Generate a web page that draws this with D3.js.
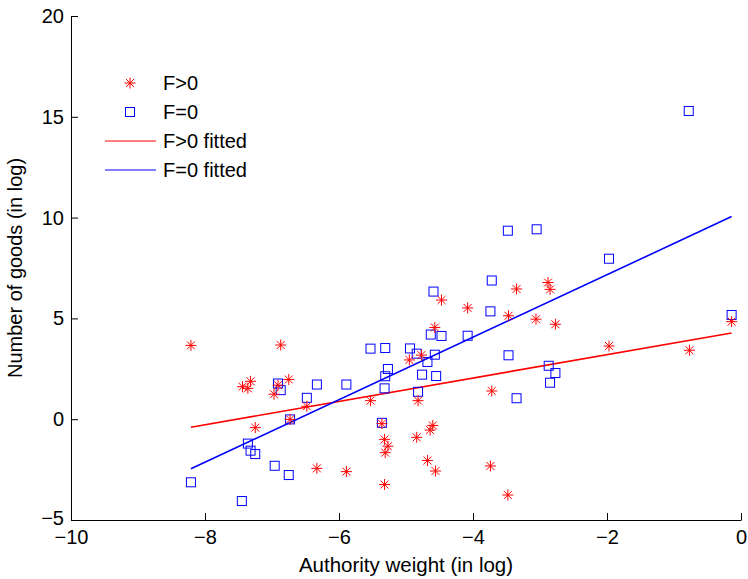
<!DOCTYPE html>
<html>
<head>
<meta charset="utf-8">
<script src="https://cdn.jsdelivr.net/npm/d3@7"></script>
<style>
  body { margin: 0; background: #fff; }
  svg text { font-family: "Liberation Sans", Arial, Helvetica, sans-serif; }
</style>
</head>
<body>
<svg id="chart" width="748" height="579"></svg>
<script>
// F>0 points (log authority weight, log number of goods)
var posX = [-8.21, -7.44, -7.36, -7.32, -7.25, -6.97, -6.91, -6.87, -6.75, -6.73,
            -6.48, -6.33, -5.89, -5.53, -5.36, -5.32, -5.27, -5.31, -5.32, -4.95,
            -4.82, -4.84, -4.77, -4.68, -4.60, -4.64, -4.56, -4.57, -4.47, -4.08,
            -3.72, -3.74, -3.48, -3.47, -3.35, -3.06, -2.88, -2.85, -2.77, -1.97,
            -0.77, -0.14];
var posY = [3.66, 1.61, 1.53, 1.88, -0.42, 1.24, 1.69, 3.68, 1.97, -0.01,
            0.64, -2.44, -2.60, 0.92, -0.22, -1.00, -1.34, -1.66, -3.24, 2.94,
            0.92, -0.90, 3.18, -2.05, -0.31, -0.54, -2.57, 4.55, 5.91, 5.52,
            1.40, -2.32, -3.76, 5.13, 6.46, 4.96, 6.78, 6.44, 4.71, 3.63,
            3.42, 4.84];

// F=0 points
var zeroX = [-8.21, -7.45, -7.36, -7.32, -7.25, -6.96, -6.91, -6.87, -6.75, -6.73,
             -6.48, -6.33, -5.89, -5.53, -5.31, -5.27, -5.31, -5.32, -5.36, -4.94,
             -4.84, -4.82, -4.76, -4.68, -4.63, -4.59, -4.57, -4.55, -4.47, -4.08,
             -3.72, -3.74, -3.48, -3.47, -3.35, -3.05, -2.87, -2.77, -2.85, -1.97,
             -0.78, -0.14];
var zeroY = [-3.13, -4.06, -1.21, -1.56, -1.73, -2.31, 1.77, 1.44, -2.77, -0.01,
             1.06, 1.72, 1.72, 3.50, 3.53, 2.49, 2.13, 1.53, -0.18, 3.51,
             3.25, 1.36, 2.21, 2.84, 4.20, 6.33, 3.20, 2.14, 4.13, 4.14,
             6.88, 5.35, 9.35, 3.17, 1.04, 9.42, 2.65, 2.29, 1.81, 7.96,
             15.29, 5.17];

// fitted line end points
var fitX = [-8.21, -0.14];
var posFitY = [-0.4, 4.28];
var zeroFitY = [-2.46, 10.05];

var xTicks = [-10, -8, -6, -4, -2, 0];
var yTicks = [-5, 0, 5, 10, 15, 20];

var legendLabels = ["F>0", "F=0", "F>0 fitted", "F=0 fitted"];

var margin = {top: 16, right: 7, bottom: 59, left: 71};
var svg = d3.select('#chart');
var width = 748 - margin.left - margin.right;
var height = 579 - margin.top - margin.bottom;

var g = svg.append('g')
  .attr('transform', 'translate(' + margin.left + ',' + margin.top + ')');

var x = d3.scaleLinear().domain([-10, 0]).range([0, width]);
var y = d3.scaleLinear().domain([-5, 20]).range([height, 0]);

// axes, MATLAB style: inward ticks, no box
var xAxis = g.append('g')
  .attr('transform', 'translate(0,' + height + ')')
  .call(d3.axisBottom(x).tickValues(xTicks).tickSizeInner(-7).tickSizeOuter(0).tickPadding(10));
var yAxis = g.append('g')
  .call(d3.axisLeft(y).tickValues(yTicks).tickSizeInner(-7).tickSizeOuter(0).tickPadding(7));

[xAxis, yAxis].forEach(function(a) {
  a.select('.domain').attr('stroke', '#000').attr('stroke-width', 1);
  a.selectAll('.tick line').attr('stroke', '#000');
  a.selectAll('.tick text').attr('fill', '#000').style('font-size', '20px');
});

// lift the bottom y label a touch so it clears the -10 below it
yAxis.selectAll('.tick text')
  .filter(function(d) { return d === -5; })
  .attr('dy', '0.2em');

// axis titles
g.append('text')
  .attr('x', width / 2)
  .attr('y', height + 52)
  .attr('text-anchor', 'middle')
  .style('font-size', '20.5px')
  .text('Authority weight (in log)');

g.append('text')
  .attr('transform', 'translate(' + (-49) + ',' + (height / 2) + ') rotate(-90)')
  .attr('text-anchor', 'middle')
  .style('font-size', '20px')
  .text('Number of goods (in log)');

function starPath(r) {
  var d = r * 0.72;
  return 'M' + (-r) + ',0L' + r + ',0' +
         'M0,' + (-r) + 'L0,' + r +
         'M' + (-d) + ',' + (-d) + 'L' + d + ',' + d +
         'M' + (-d) + ',' + d + 'L' + d + ',' + (-d);
}

// fitted lines
var line = d3.line()
  .x(function(d) { return x(d[0]); })
  .y(function(d) { return y(d[1]); });

g.append('path')
  .datum(d3.zip(fitX, posFitY))
  .attr('d', line)
  .attr('fill', 'none')
  .attr('stroke', '#ff0000')
  .attr('stroke-width', 1.6);

g.append('path')
  .datum(d3.zip(fitX, zeroFitY))
  .attr('d', line)
  .attr('fill', 'none')
  .attr('stroke', '#0000ff')
  .attr('stroke-width', 1.6);

// F=0 squares
g.selectAll('.sq')
  .data(d3.zip(zeroX, zeroY))
  .enter().append('rect')
  .attr('class', 'sq')
  .attr('x', function(d) { return x(d[0]) - 4.5; })
  .attr('y', function(d) { return y(d[1]) - 4.5; })
  .attr('width', 9)
  .attr('height', 9)
  .attr('fill', 'none')
  .attr('stroke', '#0000ff')
  .attr('stroke-width', 1);

// F>0 stars
g.selectAll('.star')
  .data(d3.zip(posX, posY))
  .enter().append('path')
  .attr('class', 'star')
  .attr('transform', function(d) { return 'translate(' + x(d[0]) + ',' + y(d[1]) + ')'; })
  .attr('d', starPath(5.5))
  .attr('fill', 'none')
  .attr('stroke', '#ff0000')
  .attr('stroke-width', 1);

// legend (no box)
var legend = svg.append('g');
var rowY = [83, 112, 141, 170];

legend.append('path')
  .attr('transform', 'translate(130,' + rowY[0] + ')')
  .attr('d', starPath(5.5))
  .attr('fill', 'none')
  .attr('stroke', '#ff0000');
legend.append('rect')
  .attr('x', 125.5).attr('y', rowY[1] - 4.5)
  .attr('width', 9).attr('height', 9)
  .attr('fill', 'none')
  .attr('stroke', '#0000ff');
legend.append('line')
  .attr('x1', 105).attr('x2', 156)
  .attr('y1', rowY[2]).attr('y2', rowY[2])
  .attr('stroke', '#ff0000');
legend.append('line')
  .attr('x1', 105).attr('x2', 156)
  .attr('y1', rowY[3]).attr('y2', rowY[3])
  .attr('stroke', '#0000ff');

legend.selectAll('.lab')
  .data(legendLabels)
  .enter().append('text')
  .attr('class', 'lab')
  .attr('x', 163)
  .attr('y', function(d, i) { return rowY[i]; })
  .attr('dy', '0.36em')
  .style('font-size', '20px')
  .text(function(d) { return d; });
</script>
</body>
</html>
